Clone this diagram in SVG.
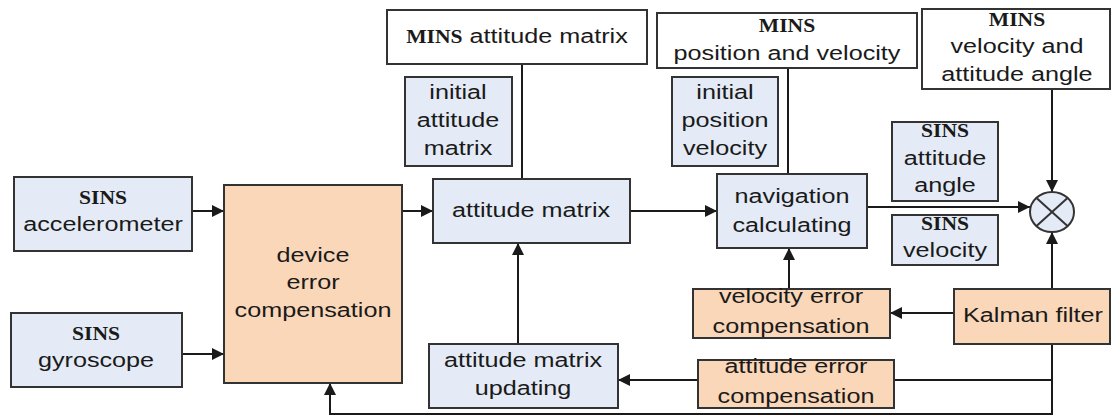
<svg xmlns="http://www.w3.org/2000/svg" width="1111" height="416" viewBox="0 0 1111 416">
<defs>
<marker id="ah" markerUnits="userSpaceOnUse" markerWidth="13" markerHeight="12" refX="12" refY="6" orient="auto">
<path d="M0,0 L12,6 L0,12 z" fill="#1a1a1a"/>
</marker>
<style>
.b{fill:#e4ebf6;stroke:#333;stroke-width:2}
.o{fill:#fad7b9;stroke:#333;stroke-width:2}
.w{fill:#fff;stroke:#333;stroke-width:2}
text{font-family:"Liberation Sans",Arial,sans-serif;font-size:21px;fill:#1a1a1a;text-anchor:middle}
.s{font-family:"Liberation Serif","Times New Roman",serif;font-size:18px;font-weight:bold}
.c{fill:none;stroke:#1a1a1a;stroke-width:2}
.a{marker-end:url(#ah)}
</style>
</defs>
<rect width="1111" height="416" fill="#fff"/>

<g id="connectors">
<line class="c a" x1="192" y1="211" x2="224" y2="211"/>
<line class="c a" x1="182" y1="354" x2="224" y2="354"/>
<line class="c a" x1="402" y1="211" x2="433" y2="211"/>
<line class="c a" x1="630" y1="211" x2="717" y2="211"/>
<line class="c" x1="522" y1="64" x2="522" y2="179"/>
<line class="c a" x1="518" y1="344" x2="518" y2="243"/>
<line class="c" x1="788" y1="68" x2="788" y2="174"/>
<line class="c a" x1="789" y1="289" x2="789" y2="248"/>
<line class="c a" x1="867" y1="207" x2="1030" y2="207"/>
<line class="c a" x1="1052" y1="89" x2="1052" y2="192"/>
<line class="c a" x1="1052" y1="289" x2="1052" y2="232"/>
<line class="c a" x1="954" y1="313" x2="890" y2="313"/>
<path class="c a" d="M1052,344 L1052,414 L330,414 L330,383"/>
<line class="c" x1="1052" y1="380" x2="894" y2="380"/>
<line class="c a" x1="698" y1="380" x2="618" y2="380"/>
</g>

<g id="sins-accelerometer">
<rect class="b" x="14" y="177" width="178" height="74"/>
<text transform="translate(103 0) scale(1.2 1)"><tspan class="s" x="0" y="204">SINS</tspan><tspan x="0" y="231">accelerometer</tspan></text>
</g>

<g id="sins-gyroscope">
<rect class="b" x="11" y="313" width="171" height="74"/>
<text transform="translate(96 0) scale(1.2 1)"><tspan class="s" x="0" y="340">SINS</tspan><tspan x="0" y="367">gyroscope</tspan></text>
</g>

<g id="device-error-compensation">
<rect class="o" x="224" y="185" width="178" height="198"/>
<text transform="translate(313 0) scale(1.2 1)"><tspan x="0" y="262">device</tspan><tspan x="0" y="289">error</tspan><tspan x="0" y="317">compensation</tspan></text>
</g>

<g id="mins-attitude-matrix">
<rect class="w" x="387" y="10" width="260" height="54"/>
<text transform="translate(517 0) scale(1.2 1)" x="0" y="43"><tspan class="s">MINS</tspan> attitude matrix</text>
</g>

<g id="initial-attitude-matrix">
<rect class="b" x="405" y="77" width="107" height="89"/>
<text transform="translate(458 0) scale(1.2 1)"><tspan x="0" y="99">initial</tspan><tspan x="0" y="127">attitude</tspan><tspan x="0" y="155">matrix</tspan></text>
</g>

<g id="attitude-matrix">
<rect class="b" x="433" y="179" width="197" height="64"/>
<text transform="translate(531 0) scale(1.2 1)" x="0" y="217">attitude matrix</text>
</g>

<g id="attitude-matrix-updating">
<rect class="b" x="429" y="344" width="189" height="64"/>
<text transform="translate(523 0) scale(1.2 1)"><tspan x="0" y="367">attitude matrix</tspan><tspan x="0" y="395">updating</tspan></text>
</g>

<g id="mins-position-velocity">
<rect class="w" x="657" y="13" width="260" height="55"/>
<text transform="translate(787 0) scale(1.2 1)"><tspan class="s" x="0" y="32">MINS</tspan><tspan x="0" y="60">position and velocity</tspan></text>
</g>

<g id="initial-position-velocity">
<rect class="b" x="672" y="77" width="106" height="89"/>
<text transform="translate(725 0) scale(1.2 1)"><tspan x="0" y="99">initial</tspan><tspan x="0" y="127">position</tspan><tspan x="0" y="155">velocity</tspan></text>
</g>

<g id="navigation-calculating">
<rect class="b" x="717" y="174" width="150" height="74"/>
<text transform="translate(792 0) scale(1.2 1)"><tspan x="0" y="203">navigation</tspan><tspan x="0" y="232">calculating</tspan></text>
</g>

<g id="sins-attitude-angle">
<rect class="b" x="892" y="122" width="106" height="79"/>
<text transform="translate(945 0) scale(1.2 1)"><tspan class="s" x="0" y="137">SINS</tspan><tspan x="0" y="165">attitude</tspan><tspan x="0" y="192">angle</tspan></text>
</g>

<g id="sins-velocity">
<rect class="b" x="892" y="215" width="106" height="50"/>
<text transform="translate(945 0) scale(1.2 1)"><tspan class="s" x="0" y="230">SINS</tspan><tspan x="0" y="257">velocity</tspan></text>
</g>

<g id="mins-velocity-attitude-angle">
<rect class="w" x="922" y="9" width="188" height="80"/>
<text transform="translate(1017 0) scale(1.2 1)"><tspan class="s" x="0" y="26">MINS</tspan><tspan x="0" y="53">velocity and</tspan><tspan x="0" y="81">attitude angle</tspan></text>
</g>

<g id="comparator">
<ellipse cx="1052" cy="212" rx="22" ry="20" fill="#e4ebf6" stroke="#333" stroke-width="2"/>
<line x1="1036.5" y1="198" x2="1067.5" y2="226" stroke="#333" stroke-width="2"/>
<line x1="1067.5" y1="198" x2="1036.5" y2="226" stroke="#333" stroke-width="2"/>
</g>

<g id="kalman-filter">
<rect class="o" x="954" y="289" width="156" height="55"/>
<text transform="translate(1033 0) scale(1.2 1)" x="0" y="322">Kalman filter</text>
</g>

<g id="velocity-error-compensation">
<rect class="o" x="693" y="289" width="197" height="49"/>
<text transform="translate(791 0) scale(1.2 1)"><tspan x="0" y="303">velocity error</tspan><tspan x="0" y="333">compensation</tspan></text>
</g>

<g id="attitude-error-compensation">
<rect class="o" x="698" y="360" width="196" height="48"/>
<text transform="translate(796 0) scale(1.2 1)"><tspan x="0" y="373">attitude error</tspan><tspan x="0" y="403">compensation</tspan></text>
</g>
</svg>
